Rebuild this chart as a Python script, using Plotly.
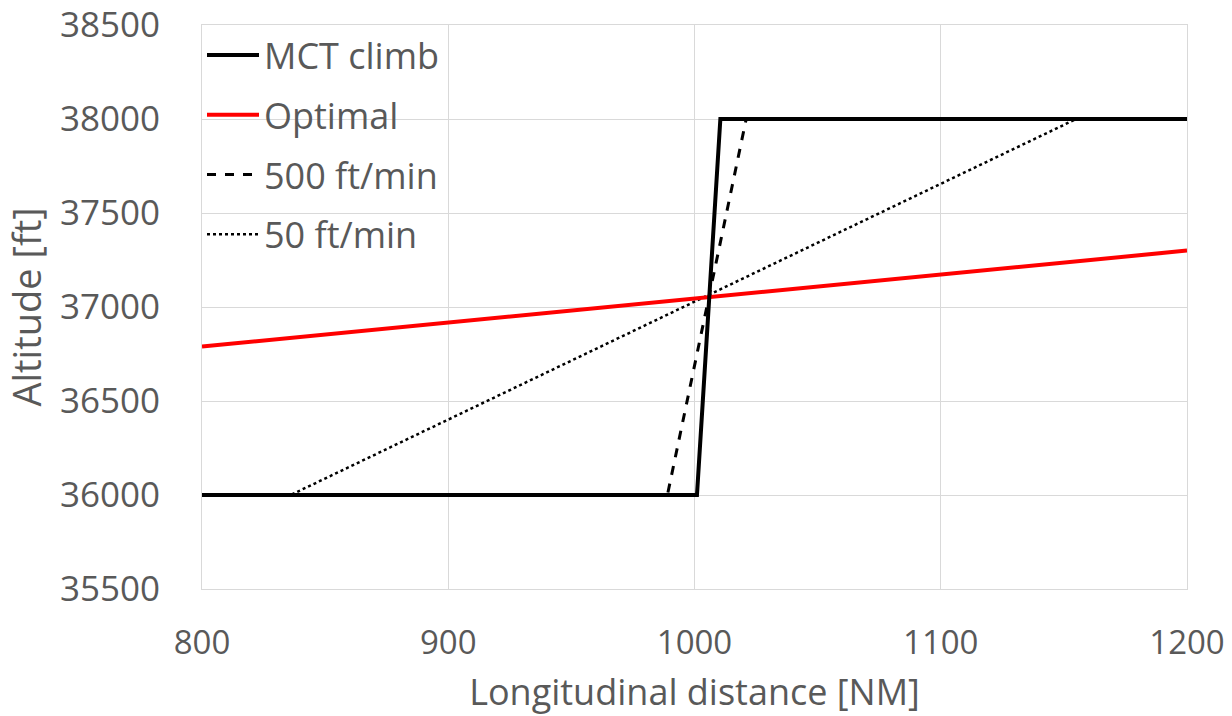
import plotly.graph_objects as go

# Data
mct_x = [800, 1001, 1010.5, 1200]
mct_y = [36000, 36000, 38000, 38000]

opt_x = [800, 1200]
opt_y = [36790, 37300]

r500_x = [800, 989, 1021, 1200]
r500_y = [36000, 36000, 38000, 38000]

r50_x = [800, 836, 1155, 1200]
r50_y = [36000, 36000, 38000, 38000]

x_ticks = [800, 900, 1000, 1100, 1200]
y_ticks = [35500, 36000, 36500, 37000, 37500, 38000, 38500]

FONT = "Open Sans"
GRAY = "#595959"

fig = go.Figure()
fig.add_trace(go.Scatter(x=r50_x, y=r50_y, mode="lines", name="50 ft/min",
                         line=dict(color="black", width=2.5, dash="dot"),
                         legendgroup="d", legendrank=4))
fig.add_trace(go.Scatter(x=r500_x, y=r500_y, mode="lines", name="500 ft/min",
                         line=dict(color="black", width=3, dash="dash"),
                         legendgroup="c", legendrank=3))
fig.add_trace(go.Scatter(x=opt_x, y=opt_y, mode="lines", name="Optimal",
                         line=dict(color="#ff0000", width=4),
                         legendgroup="b", legendrank=2))
fig.add_trace(go.Scatter(x=mct_x, y=mct_y, mode="lines", name="MCT climb",
                         line=dict(color="black", width=4),
                         legendgroup="a", legendrank=1))

fig.update_layout(
    width=1232, height=716,
    margin=dict(l=202, r=45, t=25, b=127),
    paper_bgcolor="white", plot_bgcolor="white",
    font=dict(family=FONT, color=GRAY, size=34),
    showlegend=True,
    legend=dict(x=0.0, y=1.0, xanchor="left", yanchor="top",
                bgcolor="rgba(0,0,0,0)", font=dict(size=36, color=GRAY),
                tracegroupgap=10, itemwidth=52, traceorder="grouped"),
)
fig.update_xaxes(range=[800, 1200], tickvals=x_ticks, tickformat="d", showgrid=True,
                 gridcolor="#d9d9d9", gridwidth=1, zeroline=False,
                 showline=True, linecolor="#d9d9d9", linewidth=1, mirror=True,
                 ticks="", ticklabelstandoff=24, tickfont=dict(size=33),
                 ticklabeloverflow="allow", automargin=False,
                 title=dict(text="Longitudinal distance [NM]", font=dict(size=36, color=GRAY), standoff=27))
fig.update_yaxes(range=[35500, 38500], tickvals=y_ticks, tickformat="d", showgrid=True,
                 gridcolor="#d9d9d9", gridwidth=1, zeroline=False,
                 showline=True, linecolor="#d9d9d9", linewidth=1, mirror=True,
                 ticks="", ticklabelstandoff=34, tickfont=dict(size=35),
                 ticklabeloverflow="allow", automargin=False,
                 title=dict(text="Altitude [ft]", font=dict(size=38, color=GRAY), standoff=12))

fig.write_html("out.html", config={"displayModeBar": False},
               post_script="document.body.style.margin='0';")
